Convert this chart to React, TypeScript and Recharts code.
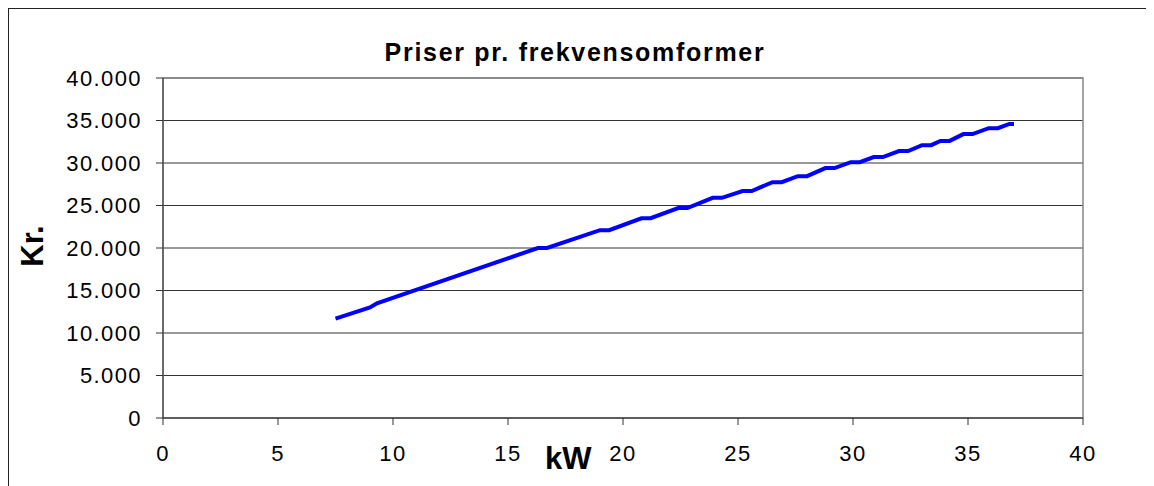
import { LineChart, Line, XAxis, YAxis, CartesianGrid, ReferenceArea } from 'recharts';

// kW / price pairs (small plateaus appear from ~16 kW on)
const kw = [
  7.5, 9, 9.3, 16.3, 16.7, 19.0, 19.4, 20.8, 21.2, 22.4, 22.8, 23.9, 24.3, 25.2, 25.6, 26.5, 26.9,
  27.6, 28.0, 28.8, 29.2, 29.9, 30.3, 30.9, 31.3, 32.0, 32.4, 33.0, 33.4, 33.8, 34.2, 34.8, 35.2,
  35.9, 36.3, 36.8, 37.0,
];
const kr = [
  11700, 13000, 13500, 20000, 20000, 22100, 22100, 23500, 23500, 24700, 24700, 25900, 25900, 26700,
  26700, 27750, 27750, 28450, 28450, 29400, 29400, 30100, 30100, 30700, 30700, 31400, 31400, 32100,
  32100, 32600, 32600, 33400, 33400, 34100, 34100, 34600, 34600,
];
const xTicks = [0, 5, 10, 15, 20, 25, 30, 35, 40];
const yTicks = [0, 5000, 10000, 15000, 20000, 25000, 30000, 35000, 40000];

const data = kw.map((x, i) => ({ kw: x, kr: kr[i] }));

const fmt = (v: number) => (v === 0 ? '0' : `${Math.floor(v / 1000)}.${String(v % 1000).padStart(3, '0')}`);

const FONT = '"Liberation Sans", Arial, sans-serif';
const tickStyle = { fontSize: 22, fill: '#000', fontFamily: FONT, letterSpacing: '1.4px' };

const App = () => {
  return (
    <div
      style={{
        position: 'relative',
        width: 1146,
        height: 490,
        boxSizing: 'border-box',
        border: '1px solid #222',
        background: '#fff',
        fontFamily: FONT,
      }}
    >
      <div
        style={{
          position: 'absolute',
          left: 0,
          width: 1144,
          top: 29,
          textAlign: 'center',
          fontWeight: 'bold',
          fontSize: 25,
          letterSpacing: '1.7px',
          marginLeft: -6,
        }}
      >
        Priser pr. frekvensomformer
      </div>
      <div
        style={{
          position: 'absolute',
          left: 24 - 60,
          top: 237 - 20,
          width: 120,
          height: 40,
          lineHeight: '40px',
          textAlign: 'center',
          transform: 'rotate(-90deg)',
          fontWeight: 'bold',
          fontSize: 31,
        }}
      >
        Kr.
      </div>
      <div
        style={{
          position: 'absolute',
          left: 536,
          top: 432,
          fontWeight: 'bold',
          fontSize: 31,
        }}
      >
        kW
      </div>
      <LineChart width={1144} height={478} data={data} margin={{ top: 69, right: 70, left: 0, bottom: 29 }}>
        <ReferenceArea x1={0} x2={40} y1={0} y2={40000} fill="none" stroke="#888" strokeWidth={1.5} ifOverflow="visible" />
        <CartesianGrid vertical={false} stroke="#333" horizontalValues={yTicks} />
        <XAxis
          dataKey="kw"
          type="number"
          domain={[0, 40]}
          ticks={xTicks}
          interval={0}
          height={40}
          tickSize={7}
          tickMargin={20}
          stroke="#333"
          tick={tickStyle}
        />
        <YAxis
          dataKey="kr"
          type="number"
          domain={[0, 40000]}
          ticks={yTicks}
          interval={0}
          width={154}
          tickSize={7}
          tickMargin={14}
          stroke="#333"
          tick={tickStyle}
          tickFormatter={fmt}
        />
        <Line
          dataKey="kr"
          type="linear"
          stroke="#0000ff"
          strokeWidth={4}
          dot={false}
          isAnimationActive={false}
        />
      </LineChart>
    </div>
  );
};

export default App;
